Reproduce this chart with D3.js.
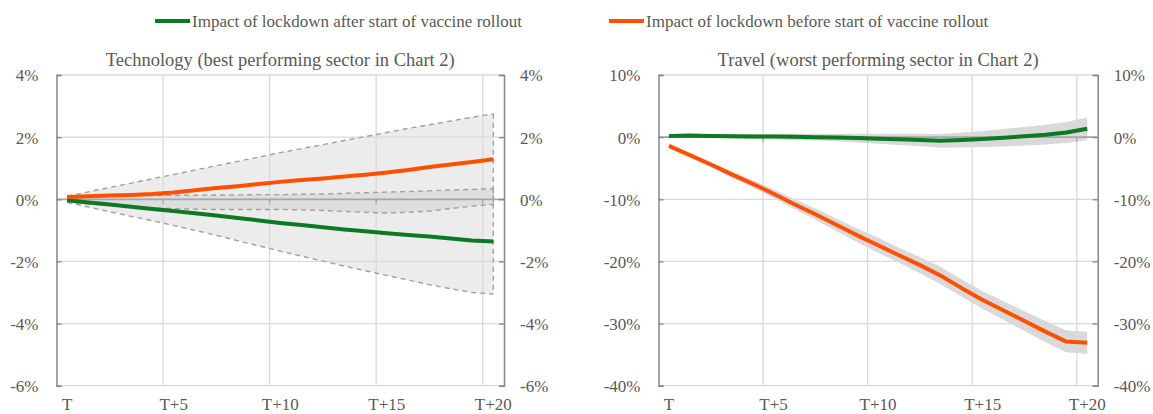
<!DOCTYPE html>
<html><head><meta charset="utf-8">
<script src="https://cdn.jsdelivr.net/npm/d3@7"></script>
<style>
body{margin:0;background:#fff;}
svg text{font-family:'Liberation Serif','Times New Roman',serif !important;fill:#595959;}
</style></head>
<body><svg id="c" width="1153" height="414"></svg>
<script>
const categories = ["T","T+1","T+2","T+3","T+4","T+5","T+6","T+7","T+8","T+9","T+10","T+11","T+12","T+13","T+14","T+15","T+16","T+17","T+18","T+19","T+20"];
const xTickLabels = ["T","T+5","T+10","T+15","T+20"];
const seriesNames = ["Impact of lockdown after start of vaccine rollout","Impact of lockdown before start of vaccine rollout"];
const panelTitles = ["Technology (best performing sector in Chart 2)","Travel (worst performing sector in Chart 2)"];

// Technology panel (%)
const techAfter  = [-0.03,-0.1,-0.17,-0.24,-0.31,-0.38,-0.45,-0.52,-0.6,-0.68,-0.76,-0.83,-0.9,-0.97,-1.03,-1.09,-1.15,-1.2,-1.26,-1.33,-1.36];
const techBefore = [0.07,0.1,0.12,0.14,0.17,0.22,0.29,0.36,0.42,0.49,0.56,0.62,0.67,0.73,0.79,0.86,0.94,1.04,1.12,1.2,1.29];
const techOuterUpper = [0.1,0.24,0.38,0.52,0.66,0.8,0.94,1.08,1.22,1.36,1.5,1.63,1.76,1.89,2.02,2.15,2.28,2.4,2.52,2.64,2.75];
const techOuterLower = [-0.1,-0.25,-0.4,-0.55,-0.69,-0.84,-1.0,-1.16,-1.33,-1.5,-1.67,-1.83,-1.99,-2.15,-2.3,-2.45,-2.6,-2.75,-2.88,-3.0,-3.05];
const techInnerUpper = [0.1,0.11,0.11,0.12,0.12,0.13,0.13,0.14,0.14,0.15,0.15,0.16,0.17,0.19,0.21,0.23,0.25,0.27,0.3,0.32,0.34];
const techInnerLower = [-0.1,-0.15,-0.2,-0.24,-0.28,-0.3,-0.32,-0.33,-0.33,-0.33,-0.33,-0.34,-0.36,-0.39,-0.42,-0.44,-0.42,-0.38,-0.3,-0.22,-0.16];
const techTicks = [4,2,0,-2,-4,-6];

// Travel panel (%)
const travelAfter  = [0.2,0.25,0.2,0.15,0.1,0.1,0.05,0.0,-0.05,-0.15,-0.25,-0.35,-0.45,-0.6,-0.45,-0.3,-0.1,0.15,0.4,0.75,1.35];
const travelAfterUpper = [0.4,0.5,0.5,0.5,0.5,0.55,0.55,0.55,0.55,0.55,0.55,0.55,0.55,0.5,0.75,1.0,1.3,1.65,2.0,2.45,3.15];
const travelAfterLower = [0.0,0.0,-0.1,-0.2,-0.3,-0.35,-0.45,-0.55,-0.65,-0.85,-1.05,-1.25,-1.45,-1.7,-1.65,-1.6,-1.5,-1.35,-1.2,-0.95,-0.45];
const travelBefore = [-1.4,-2.9,-4.4,-6.0,-7.5,-9.1,-10.8,-12.4,-14.1,-15.8,-17.4,-19.0,-20.6,-22.3,-24.3,-26.2,-27.9,-29.6,-31.3,-32.9,-33.1];
const travelBeforeUpper = [-1.2,-2.6,-4.0,-5.5,-6.9,-8.4,-10.0,-11.5,-13.1,-14.7,-16.2,-17.8,-19.3,-20.9,-22.9,-24.8,-26.4,-28.0,-29.6,-31.1,-31.3];
const travelBeforeLower = [-1.6,-3.2,-4.8,-6.5,-8.1,-9.8,-11.6,-13.3,-15.1,-16.9,-18.6,-20.2,-21.9,-23.7,-25.7,-27.6,-29.4,-31.2,-33.0,-34.6,-34.9];
const travelTicks = [10,0,-10,-20,-30,-40];

const GREEN = "#0b7a23", ORANGE = "#ff5000";
const FS = 17, TITLE_FS = 18.5;
const svg = d3.select("#c");

// Legend
const legend = [{name:seriesNames[0],color:GREEN,x:155},{name:seriesNames[1],color:ORANGE,x:609}];
legend.forEach(l=>{
  svg.append("line").attr("x1",l.x).attr("x2",l.x+35).attr("y1",21).attr("y2",21)
    .attr("stroke",l.color).attr("stroke-width",4);
  svg.append("text").attr("x",l.x+37).attr("y",27).style("font-size",FS+"px").text(l.name);
});

function panel(opt){
  const g = svg.append("g");
  const x = d3.scaleBand().domain(categories).range([opt.x0,opt.x1]).paddingInner(0).paddingOuter(0);
  const y = d3.scaleLinear().domain([d3.min(opt.ticks),d3.max(opt.ticks)]).range([opt.y1,opt.y0]);
  const cx = c => x(c)+x.bandwidth()/2;
  const pts = arr => arr.map((v,i)=>[cx(categories[i]),y(v)]);

  // title
  g.append("text").attr("x",(opt.x0+opt.x1)/2).attr("y",66).attr("text-anchor","middle")
    .style("font-size",TITLE_FS+"px").text(opt.title);

  const grid = g.append("g");
  const drawGrid = ()=>{
    opt.ticks.forEach(t=>{
      grid.append("line").attr("x1",opt.x0).attr("x2",opt.x1).attr("y1",y(t)).attr("y2",y(t))
        .attr("stroke","#d9d9d9").attr("stroke-width",1.3);
    });
    xTickLabels.slice(1).forEach(lbl=>{
      const xx = x(lbl);
      grid.append("line").attr("x1",xx).attr("x2",xx).attr("y1",opt.y0).attr("y2",opt.y1)
        .attr("stroke","#d9d9d9").attr("stroke-width",1.3);
    });
  };

  const area = (lo,hi)=> d3.area().x((d,i)=>cx(categories[i])).y0((d,i)=>y(lo[i])).y1((d,i)=>y(hi[i]))(lo);
  const line = d3.line();

  if(opt.dashedBands){
    opt.dashedBands.forEach(b=>{
      g.append("path").attr("d",area(b.lo,b.hi)).attr("fill",b.fill).attr("stroke","none");
    });
    grid.raise(); drawGrid();
    const bl = g.append("g");
    opt.dashedBands.forEach(b=>{
      bl.append("path").attr("d",line(pts(b.hi))).attr("fill","none").attr("stroke","#a0a0a0")
        .attr("stroke-width",1.4).attr("stroke-dasharray","5,4");
      bl.append("path").attr("d",line(pts(b.lo))).attr("fill","none").attr("stroke","#a0a0a0")
        .attr("stroke-width",1.4).attr("stroke-dasharray","5,4");
      const last = categories.length-1;
      bl.append("line").attr("x1",cx(categories[last])).attr("x2",cx(categories[last]))
        .attr("y1",y(b.hi[last])).attr("y2",y(b.lo[last]))
        .attr("stroke","#a0a0a0").attr("stroke-width",1.4).attr("stroke-dasharray","5,4");
    });
  } else {
    drawGrid();
  }
  if(opt.solidBands){
    opt.solidBands.forEach(b=>{
      g.append("path").attr("d",area(b.lo,b.hi)).attr("fill","#d9d9d9").attr("stroke","none");
    });
  }

  // zero axis line with downward ticks
  g.append("line").attr("x1",opt.x0).attr("x2",opt.x1).attr("y1",y(0)).attr("y2",y(0))
    .attr("stroke","#a6a6a6").attr("stroke-width",1.8);
  xTickLabels.slice(1).forEach(lbl=>{
    const xx = x(lbl);
    g.append("line").attr("x1",xx).attr("x2",xx).attr("y1",y(0)).attr("y2",y(0)+5)
      .attr("stroke","#a6a6a6").attr("stroke-width",1.3);
  });

  // left & right value axes
  const axL = d3.axisLeft(y).tickValues(opt.ticks).tickSize(-5).tickPadding(opt.padL).tickFormat(d=>d+"%");
  const axR = d3.axisRight(y).tickValues(opt.ticks).tickSize(-5).tickPadding(opt.padR).tickFormat(d=>d+"%");
  [ [axL,opt.x0], [axR,opt.x1] ].forEach(([ax,px])=>{
    const a = g.append("g").attr("transform",`translate(${px},0)`).call(ax);
    a.select(".domain").attr("stroke","#868686").attr("stroke-width",1.5);
    a.selectAll(".tick line").attr("stroke","#868686").attr("stroke-width",1.3);
    a.selectAll(".tick text").style("font-size",FS+"px").attr("dy","0.35em");
  });

  // x labels
  const xa = d3.axisBottom(x).tickValues(xTickLabels).tickSize(0).tickPadding(0);
  const xg = g.append("g").attr("transform",`translate(0,${opt.y1+12})`).call(xa);
  xg.select(".domain").remove();
  xg.selectAll(".tick text").style("font-size",FS+"px").attr("dy","0.71em");

  // series lines
  opt.series.forEach(s=>{
    g.append("path").attr("d",line(pts(s.values))).attr("fill","none").attr("stroke",s.color)
      .attr("stroke-width",4).attr("stroke-linejoin","round");
  });
}

panel({
  x0:56.5, x1:504, y0:75, y1:385.7, ticks:techTicks, title:panelTitles[0], padL:18, padR:16,
  dashedBands:[
    {lo:techOuterLower, hi:techOuterUpper, fill:"#ececec"},
    {lo:techInnerLower, hi:techInnerUpper, fill:"#dedede"}
  ],
  series:[{values:techAfter,color:GREEN},{values:techBefore,color:ORANGE}]
});
panel({
  x0:658.5, x1:1097.7, y0:75, y1:385.7, ticks:travelTicks, title:panelTitles[1], padL:18, padR:16,
  solidBands:[
    {lo:travelAfterLower, hi:travelAfterUpper},
    {lo:travelBeforeLower, hi:travelBeforeUpper}
  ],
  series:[{values:travelAfter,color:GREEN},{values:travelBefore,color:ORANGE}]
});
</script></body></html>
